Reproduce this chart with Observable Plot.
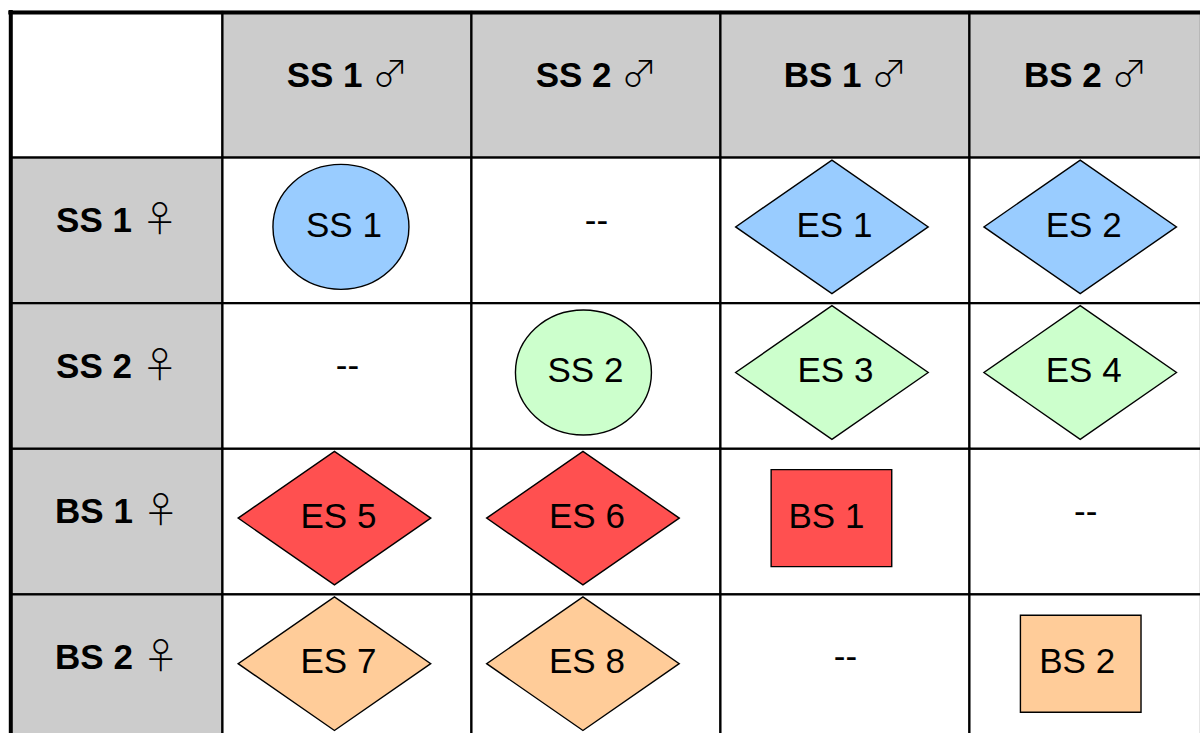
<!DOCTYPE html>
<html><head><meta charset="utf-8">
<script src="https://cdn.jsdelivr.net/npm/d3@7"></script>
<script src="https://cdn.jsdelivr.net/npm/@observablehq/plot@0.6"></script>
<style>
html,body{margin:0;padding:0;background:#fff;overflow:hidden}
#chart svg{display:block}
</style>
</head><body><div id="chart"></div>
<script>
// ---- data ----
const maleCols = ["SS 1", "SS 2", "BS 1", "BS 2"];
const femaleRows = ["SS 1", "SS 2", "BS 1", "BS 2"];
const maleSymbol = "♂";
const femaleSymbol = "♀";
// offspring of female row × male column ("--" = no cross)
const offspring = [
  ["SS 1", "--", "ES 1", "ES 2"],
  ["--", "SS 2", "ES 3", "ES 4"],
  ["ES 5", "ES 6", "BS 1", "--"],
  ["ES 7", "ES 8", "--", "BS 2"]
];
const shapeKind = [
  ["ellipse", null, "diamond", "diamond"],
  [null, "ellipse", "diamond", "diamond"],
  ["diamond", "diamond", "rect", null],
  ["diamond", "diamond", null, "rect"]
];
const rowColors = ["#99ccff", "#ccffcc", "#ff5050", "#ffcc99"];

// ---- layout (column/row edges in table units, nudges in px) ----
const colEdges = [-0.852, 0, 1, 2, 3, 3.93];
const rowEdges = [-1, 0, 1, 2, 3, 4];
const shapeDx = [[-6.5, 0, -13.5, -5.5], [0, -13, -13.5, -5.5], [-13, -13.5, -14, 0], [-13, -13.5, 0, -5]];
const labelDx = [[-3.5, 0, -11, -2], [0, -11, -10, -2], [-9, -9.5, -19, 0], [-9, -9.5, 0, -8.5]];
const headerGrey = "#cccccc";
const FONT = "'Liberation Sans', Arial, Helvetica, sans-serif";

const colMid = c => (colEdges[c + 1] + colEdges[c + 2]) / 2;
const rowMid = r => (rowEdges[r + 1] + rowEdges[r + 2]) / 2;

// ---- table cells ----
const cells = [];
cells.push({x1: colEdges[0], x2: colEdges[1], y1: rowEdges[0], y2: rowEdges[1], fill: "white"});
maleCols.forEach((m, c) => cells.push({x1: colEdges[c + 1], x2: colEdges[c + 2], y1: rowEdges[0], y2: rowEdges[1], fill: headerGrey}));
femaleRows.forEach((f, r) => {
  cells.push({x1: colEdges[0], x2: colEdges[1], y1: rowEdges[r + 1], y2: rowEdges[r + 2], fill: headerGrey});
  maleCols.forEach((m, c) => cells.push({x1: colEdges[c + 1], x2: colEdges[c + 2], y1: rowEdges[r + 1], y2: rowEdges[r + 2], fill: "white"}));
});

const headers = [
  ...maleCols.map((m, c) => ({x: colMid(c), y: (rowEdges[0] + rowEdges[1]) / 2, name: m, sym: maleSymbol})),
  ...femaleRows.map((f, r) => ({x: (colEdges[0] + colEdges[1]) / 2, y: rowMid(r), name: f, sym: femaleSymbol}))
];

const entries = [];
offspring.forEach((row, r) => row.forEach((lab, c) => {
  entries.push({r, c, x: colMid(c), y: rowMid(r), label: lab, kind: shapeKind[r][c], color: rowColors[r]});
}));

// ---- custom symbols ----
const K = 0.5522847498;
const symbols = {
  ellipse: {draw(ctx) {
    const a = 68, b = 62.5;
    ctx.moveTo(a, 0);
    ctx.bezierCurveTo(a, K * b, K * a, b, 0, b);
    ctx.bezierCurveTo(-K * a, b, -a, K * b, -a, 0);
    ctx.bezierCurveTo(-a, -K * b, -K * a, -b, 0, -b);
    ctx.bezierCurveTo(K * a, -b, a, -K * b, a, 0);
    ctx.closePath();
  }},
  diamond: {draw(ctx) {
    const a = 96.3, b = 66.8;
    ctx.moveTo(a, 0); ctx.lineTo(0, b); ctx.lineTo(-a, 0); ctx.lineTo(0, -b); ctx.closePath();
  }},
  rect: {draw(ctx) {
    const a = 60.3, b = 48.5;
    ctx.moveTo(-a, -b); ctx.lineTo(a, -b); ctx.lineTo(a, b); ctx.lineTo(-a, b); ctx.closePath();
  }}
};

const shapeMarks = [];
entries.filter(e => e.kind).forEach(e => {
  shapeMarks.push(Plot.dot([e], {x: "x", y: "y", r: 10, symbol: symbols[e.kind], fill: "color", stroke: "black", strokeWidth: 1.4, dx: shapeDx[e.r][e.c], dy: -4}));
  shapeMarks.push(Plot.text([e], {x: "x", y: "y", text: "label", fontSize: 35, fill: "black", dx: labelDx[e.r][e.c], dy: -5.5}));
});

const plot = Plot.plot({
  width: 1200,
  height: 733,
  margin: 0,
  style: {background: "white", fontFamily: FONT},
  x: {type: "linear", domain: [colEdges[0], colEdges[5]], range: [10.3, 1201], axis: null},
  y: {type: "linear", domain: [rowEdges[0], rowEdges[5]], range: [12, 740], axis: null},
  marks: [
    Plot.rect(cells, {x1: "x1", x2: "x2", y1: "y1", y2: "y2", fill: "fill", stroke: "black", strokeWidth: 2.2}),
    Plot.ruleX([colEdges[0]], {y1: rowEdges[0], y2: rowEdges[5], stroke: "black", strokeWidth: 4, strokeLinecap: "square"}),
    Plot.ruleY([rowEdges[0]], {x1: colEdges[0], x2: colEdges[5], stroke: "black", strokeWidth: 4, strokeLinecap: "square"}),
    Plot.text(headers, {x: "x", y: "y", text: d => d.name + " " + d.sym, fontSize: 35, fontWeight: "bold", fill: "black", dy: -10}),
    Plot.text(entries.filter(e => !e.kind), {x: "x", y: "y", text: "label", fontSize: 35, fill: "black", dy: -10.5}),
    ...shapeMarks
  ]
});

document.getElementById("chart").appendChild(plot);

// mixed weights: bold name, light sex symbol
const NS = "http://www.w3.org/2000/svg";
Array.from(document.querySelectorAll("#chart text")).forEach(t => {
  const s = t.textContent;
  if (!(s.includes(maleSymbol) || s.includes(femaleSymbol))) return;
  const i = s.lastIndexOf(" ");
  while (t.firstChild) t.removeChild(t.firstChild);
  const a = document.createElementNS(NS, "tspan");
  a.textContent = s.slice(0, i) + "\u00a0";
  const b = document.createElementNS(NS, "tspan");
  b.setAttribute("style", "font-weight:300;font-family:'Noto Sans CJK JP','Noto Sans CJK SC',sans-serif;font-size:36px");
  b.textContent = s.slice(i + 1);
  t.appendChild(a); t.appendChild(b);
});
</script>
</body></html>
